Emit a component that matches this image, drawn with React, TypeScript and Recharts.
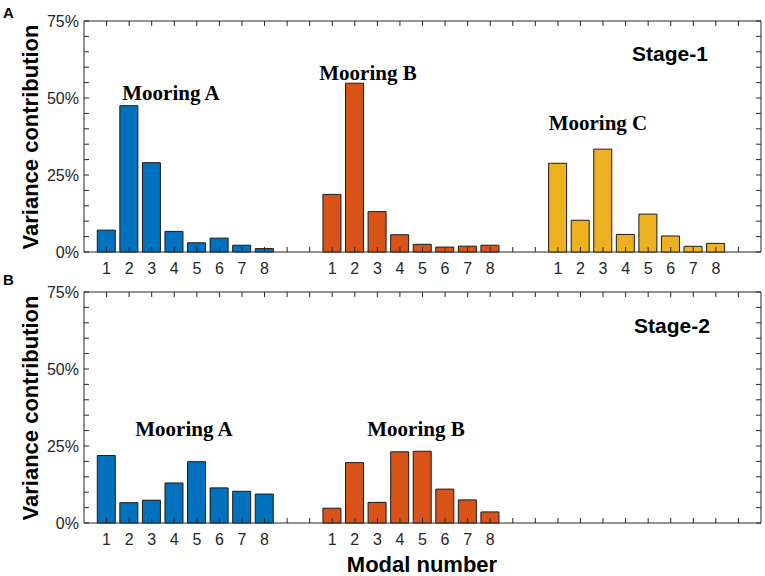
import { BarChart, Bar, XAxis, YAxis, Cell, ReferenceArea } from "recharts";

const modalNumbers = [1, 2, 3, 4, 5, 6, 7, 8];
const stage1A = [7.1, 47.5, 29.0, 6.7, 3.0, 4.5, 2.2, 1.1];
const stage1B = [18.7, 54.8, 13.1, 5.6, 2.5, 1.6, 1.9, 2.2];
const stage1C = [28.8, 10.3, 33.4, 5.7, 12.3, 5.2, 1.85, 2.8];
const stage2A = [21.9, 6.6, 7.4, 13.0, 19.9, 11.4, 10.3, 9.4];
const stage2B = [4.8, 19.6, 6.7, 23.1, 23.3, 11.0, 7.5, 3.6];
const yTicks = [0, 5, 10, 15, 20, 25, 30, 35, 40, 45, 50, 55, 60, 65, 70, 75];
const yLabels = [0, 25, 50, 75];

const colors = ["#0072BD", "#D95319", "#EDB120"];
const axisColor = "#262626";
const sans = "'Liberation Sans', Arial, sans-serif";
const serif = "'Liberation Serif', 'Times New Roman', serif";

// each mooring takes 8 slots, then 2 empty ones
const slots = Array.from({ length: 29 }, (_, i) => i + 1);

function buildRows(groups: number[][]) {
  const rows: { pos: number; v: number; g: number; label: string }[] = [];
  groups.forEach((vals, g) => {
    vals.forEach((v, i) => {
      rows.push({ pos: g * 10 + i + 1, v, g, label: String(modalNumbers[i]) });
    });
  });
  return rows;
}

const rows1 = buildRows([stage1A, stage1B, stage1C]);
const rows2 = buildRows([stage2A, stage2B]);

const PLOT_W = 677;
const PLOT_H = 231;

const XTick = (props: any) => {
  const { x, y, payload, rows } = props;
  const row = rows.find((r: any) => r.pos === payload.value);
  return (
    <g>
      <line x1={x} x2={x} y1={y} y2={y - 5} stroke={axisColor} />
      <line x1={x} x2={x} y1={y - PLOT_H} y2={y - PLOT_H + 5} stroke={axisColor} />
      {row && (
        <text x={x} y={y + 22} textAnchor="middle" fontFamily={sans} fontSize={16} fill={axisColor}>
          {row.label}
        </text>
      )}
    </g>
  );
};

const YTick = (props: any) => {
  const { x, y, payload } = props;
  return (
    <g>
      <line x1={x} x2={x + 5} y1={y} y2={y} stroke={axisColor} />
      <line x1={x + PLOT_W} x2={x + PLOT_W - 5} y1={y} y2={y} stroke={axisColor} />
      {yLabels.includes(payload.value) && (
        <text x={x - 5} y={y + 6} textAnchor="end" fontFamily={sans} fontSize={16} fill={axisColor}>
          {payload.value}%
        </text>
      )}
    </g>
  );
};

const Panel = ({ rows, height, margin }: { rows: any[]; height: number; margin: any }) => (
  <BarChart width={765} height={height} data={rows} margin={margin}>
    <ReferenceArea x1={0} x2={30} y1={0} y2={75} fill="none" stroke={axisColor} strokeWidth={1} />
    <XAxis
      dataKey="pos"
      type="number"
      domain={[0, 30]}
      ticks={slots}
      interval={0}
      height={30}
      axisLine={false}
      tickLine={false}
      tickSize={0}
      tickMargin={0}
      tick={<XTick rows={rows} />}
    />
    <YAxis
      type="number"
      domain={[0, 75]}
      ticks={yTicks}
      interval={0}
      width={60}
      axisLine={false}
      tickLine={false}
      tickSize={0}
      tickMargin={0}
      tick={<YTick />}
    />
    <Bar dataKey="v" barSize={18} stroke="#1a1a1a" strokeWidth={1} isAnimationActive={false}>
      {rows.map((r) => (
        <Cell key={r.pos} fill={colors[r.g]} />
      ))}
    </Bar>
  </BarChart>
);

const boldSans = { fontFamily: sans, fontWeight: 700, fill: "#000" };
const boldSerif = { fontFamily: serif, fontWeight: 700, fill: "#000" };

export default function App() {
  return (
    <div style={{ position: "absolute", left: 0, top: 0, width: 765, height: 576, background: "#fff" }}>
      <div style={{ position: "absolute", left: 0, top: 0 }}>
        <Panel rows={rows1} height={285} margin={{ top: 21, right: 4, bottom: 3, left: 24 }} />
      </div>
      <div style={{ position: "absolute", left: 0, top: 285 }}>
        <Panel rows={rows2} height={291} margin={{ top: 7, right: 4, bottom: 23, left: 24 }} />
      </div>
      <svg width={765} height={576} style={{ position: "absolute", left: 0, top: 0, pointerEvents: "none" }}>
        <text x={3} y={18} fontSize={15} {...boldSans}>A</text>
        <text x={3} y={285} fontSize={15} {...boldSans}>B</text>
        <text x={670} y={61} fontSize={21} textAnchor="middle" {...boldSans}>Stage-1</text>
        <text x={672} y={333} fontSize={21} textAnchor="middle" {...boldSans}>Stage-2</text>
        <text x={171} y={100} fontSize={21} textAnchor="middle" {...boldSerif}>Mooring A</text>
        <text x={368} y={80} fontSize={21} textAnchor="middle" {...boldSerif}>Mooring B</text>
        <text x={598} y={130} fontSize={21} textAnchor="middle" {...boldSerif}>Mooring C</text>
        <text x={184} y={436} fontSize={21} textAnchor="middle" {...boldSerif}>Mooring A</text>
        <text x={416} y={436} fontSize={21} textAnchor="middle" {...boldSerif}>Mooring B</text>
        <text x={38} y={137} fontSize={22} textAnchor="middle" transform="rotate(-90 38 137)" {...boldSans}>
          Variance contribution
        </text>
        <text x={38} y={408} fontSize={22} textAnchor="middle" transform="rotate(-90 38 408)" {...boldSans}>
          Variance contribution
        </text>
        <text x={422} y={572} fontSize={22} textAnchor="middle" {...boldSans}>Modal number</text>
      </svg>
    </div>
  );
}
